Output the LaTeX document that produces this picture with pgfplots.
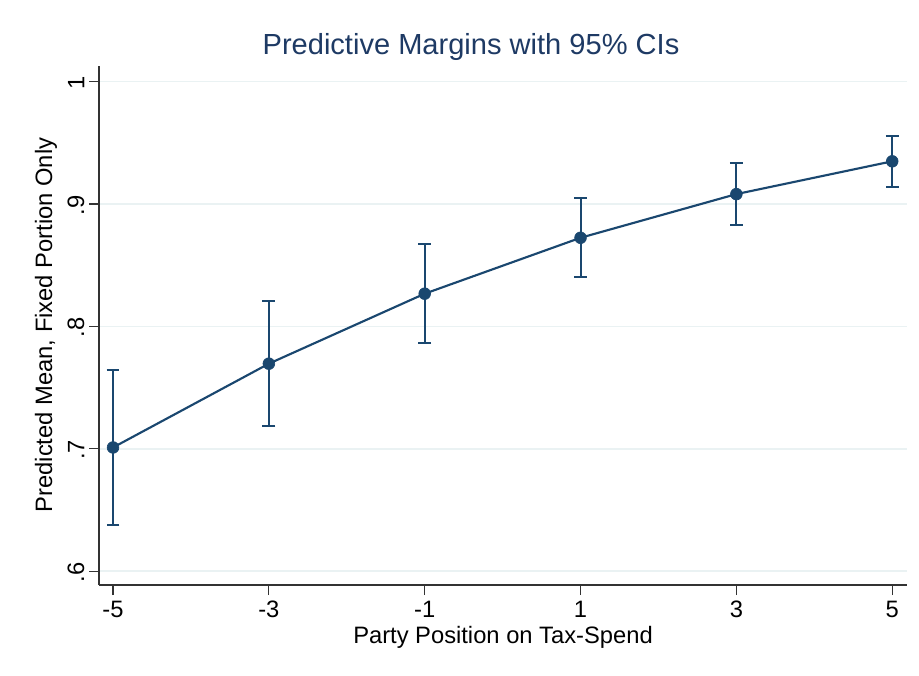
\documentclass[border=0pt]{standalone}
\usepackage{pgfplots}
\pgfplotsset{compat=1.18}
\usepackage{fontspec}
\setmainfont{Liberation Sans}
\definecolor{stnavy}{HTML}{1A476F}
\definecolor{sttitle}{HTML}{1E3A64}
\definecolor{stgrid}{HTML}{EAF2F3}
\begin{document}
\begin{tikzpicture}[x=0.75pt,y=0.75pt]
\path[use as bounding box] (0,0) rectangle (919,675);
\begin{axis}[
  at={(74.25pt,67.5pt)}, anchor=south west,
  scale only axis,
  width=606pt, height=389.25pt,
  xmin=-5.18, xmax=5.19,
  ymin=0.5886, ymax=1.0128,
  axis x line*=bottom, axis y line*=left,
  axis line style={-, line width=0.8pt, black!80},
  xtick={-5,-3,-1,1,3,5},
  xticklabels={-5,-3,-1,1,3,5},
  ytick={0.6,0.7,0.8,0.9,1},
  yticklabels={.6,.7,.8,.9,1},
  tick align=outside,
  major tick length=7.5pt,
  tick style={line width=0.8pt, black!80},
  ymajorgrids,
  grid style={stgrid, line width=1.2pt},
  tick label style={font=\fontsize{17.8pt}{20pt}\selectfont},
  xticklabel style={yshift=-1pt},
  yticklabel style={rotate=90, anchor=south, xshift=-1pt},
  clip=false,
]
\addplot[stnavy, line width=1.6pt, mark=*, mark size=4.4pt,
  mark options={fill=stnavy, draw=stnavy, line width=0.5pt},
  error bars/.cd, y dir=both, y explicit,
  error bar style={line width=1.5pt, stnavy},
  error mark options={rotate=90, mark size=4.8pt, line width=1.5pt, stnavy}]
  table[x=x, y=y, y error=e] {
x   y      e
-5  0.701  0.0632
-3  0.7695 0.0510
-1  0.8267 0.0406
1   0.8724 0.0324
3   0.9081 0.0256
5   0.9349 0.0207
};
\end{axis}
\node[sttitle, font=\fontsize{21.8pt}{26pt}\selectfont] at (471,628) {Predictive Margins with 95\% CIs};
\node[font=\fontsize{17.8pt}{20pt}\selectfont] at (503,38) {Party Position on Tax-Spend};
\node[rotate=90, font=\fontsize{17.8pt}{20pt}\selectfont] at (46,350) {Predicted Mean, Fixed Portion Only};
\end{tikzpicture}
\end{document}
